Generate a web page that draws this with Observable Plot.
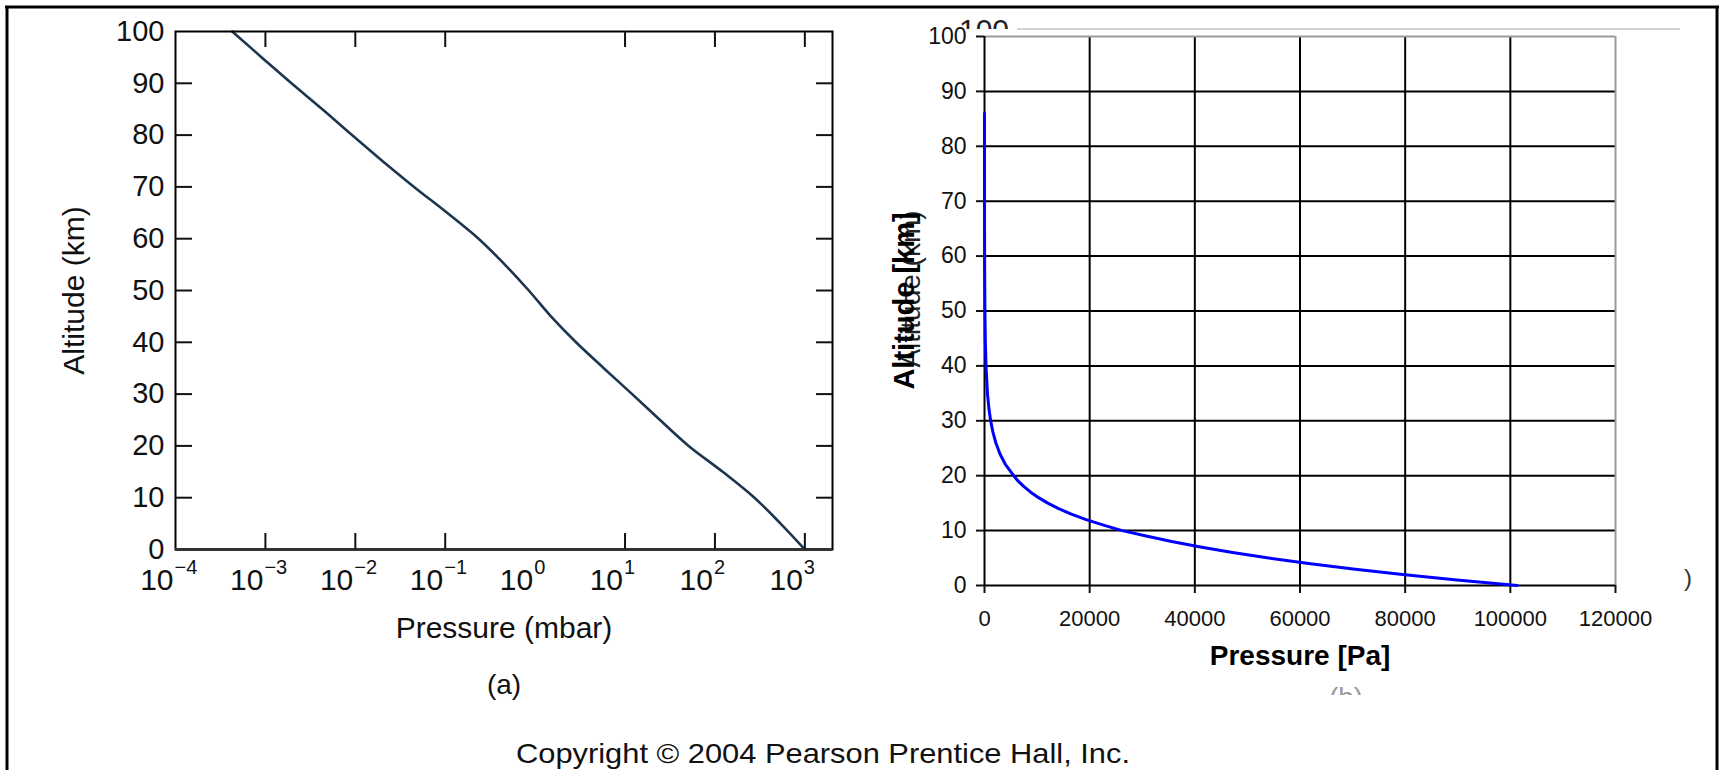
<!DOCTYPE html>
<html>
<head>
<meta charset="utf-8">
<script src="https://cdn.jsdelivr.net/npm/d3@7"></script>
<script src="https://cdn.jsdelivr.net/npm/@observablehq/plot@0.6"></script>
<style>
  html, body { margin: 0; padding: 0; background: #fff; }
  #wrap { position: relative; width: 1721px; height: 770px; background: #fff; overflow: hidden; font-family: "Liberation Sans", Arial, Helvetica, sans-serif; }
  #left, #right, #deco { position: absolute; top: 0; }
  #left { left: 0; }
  #right { left: 860px; }
  #deco { left: 0; pointer-events: none; }
</style>
</head>
<body>
<div id="wrap">
  <div id="left"></div>
  <div id="right"></div>
  <svg id="deco" width="1721" height="770"></svg>
</div>
<script>
// ---------- Data: panel (a), log pressure in mbar ----------
const leftAltitudeKm = [0, 5, 10, 15, 20, 25, 30, 35, 40, 45, 50, 55, 60, 65, 70, 75, 80, 85, 90, 95, 100];
const leftPressureMbar = [1000, 537, 275, 122, 51, 24.5, 12, 5.8, 2.85, 1.5, 0.85, 0.46, 0.235, 0.105, 0.045, 0.02, 0.0092, 0.0043, 0.00195, 0.00091, 0.000427];
const leftDecades = [1e-4, 1e-3, 1e-2, 1e-1, 1e0, 1e1, 1e2, 1e3];
const leftExponents = ["\u22124", "\u22123", "\u22122", "\u22121", "0", "1", "2", "3"];
const leftTickMarks = [1e-3, 1e-2, 1e-1, 1e1, 1e2, 1e3];
const leftYTicks = [0, 10, 20, 30, 40, 50, 60, 70, 80, 90, 100];
const leftYInnerTicks = [10, 20, 30, 40, 50, 60, 70, 80, 90];

// ---------- Data: panel (b), linear pressure in Pa ----------
const rightAltitudeKm = [0, 1, 2, 3, 4, 5, 6, 7, 8, 9, 10, 11, 12, 13, 14, 15, 16, 17, 18, 19, 20, 22, 24, 26, 28, 30, 32, 35, 40, 45, 50, 55, 60, 65, 70, 75, 80, 86];
const rightPressurePa = [101325, 89875, 79495, 70108, 61640, 54020, 47181, 41061, 35600, 30742, 26200, 22632, 19330, 16510, 14102, 12045, 10287, 8787, 7505, 6410, 5560, 4000, 2930, 2150, 1590, 1172, 868, 558, 287, 149, 80, 43, 22, 11, 5.2, 2.4, 1.05, 0.37];
const rightXTicks = [0, 20000, 40000, 60000, 80000, 100000, 120000];
const rightXGrid = [20000, 40000, 60000, 80000, 100000];
const rightYTicks = [0, 10, 20, 30, 40, 50, 60, 70, 80, 90, 100];
const rightYGrid = [10, 20, 30, 40, 50, 60, 70, 80, 90];

const FONT = '"Liberation Sans", Arial, Helvetica, sans-serif';

const leftData = leftAltitudeKm.map((a, i) => ({alt: a, p: leftPressureMbar[i]}));
const leftLabels = leftDecades.map((d, i) => ({d, e: leftExponents[i]}));
const rightData = rightAltitudeKm.map((a, i) => ({alt: a, pa: rightPressurePa[i]}));

// ---------- Panel (a) ----------
const LW = 860, LH = 770, LML = 175, LMR = 28, LMT = 31, LMB = 221;
const lInnerW = LW - LML - LMR, lInnerH = LH - LMT - LMB;
const leftPlot = Plot.plot({
  width: LW, height: LH,
  marginLeft: LML, marginRight: LMR, marginTop: LMT, marginBottom: LMB,
  x: {type: "log", domain: [1e-4, 2030], axis: null},
  y: {domain: [0, 100], axis: null},
  style: {background: "transparent", fontFamily: FONT, color: "#111", overflow: "visible"},
  marks: [
    Plot.line(leftData, {x: "p", y: "alt", stroke: "#1e3550", strokeWidth: 2.6, curve: "monotone-y"}),
    Plot.frame({stroke: "#000", strokeWidth: 2}),
    Plot.ruleY([0], {stroke: "#333", strokeWidth: 3}),
    Plot.tickX(leftTickMarks, {x: d => d, insetTop: lInnerH - 16, stroke: "#111", strokeWidth: 2}),
    Plot.tickX(leftTickMarks, {x: d => d, insetBottom: lInnerH - 16, stroke: "#111", strokeWidth: 2}),
    Plot.tickY(leftYInnerTicks, {y: d => d, insetRight: lInnerW - 17, stroke: "#111", strokeWidth: 2}),
    Plot.tickY(leftYInnerTicks, {y: d => d, insetLeft: lInnerW - 16, stroke: "#111", strokeWidth: 2}),
    Plot.text(leftYTicks, {y: d => d, text: d => String(d), frameAnchor: "left", textAnchor: "end", lineAnchor: "middle", dx: -11, fontSize: 29, fill: "#111"}),
    Plot.text(leftLabels, {x: "d", text: () => "10", frameAnchor: "bottom", textAnchor: "end", lineAnchor: "middle", dx: -2, dy: 31, fontSize: 30, fill: "#111"}),
    Plot.text(leftLabels, {x: "d", text: "e", frameAnchor: "bottom", textAnchor: "start", lineAnchor: "middle", dx: -1, dy: 18, fontSize: 20, fill: "#111"}),
    Plot.text(["Pressure (mbar)"], {text: d => d, frameAnchor: "bottom", textAnchor: "middle", lineAnchor: "middle", dy: 79, fontSize: 30, fill: "#111"}),
    Plot.text(["(a)"], {text: d => d, frameAnchor: "bottom", textAnchor: "middle", lineAnchor: "middle", dy: 136, fontSize: 28, fill: "#111"}),
    Plot.text(["Altitude (km)"], {text: d => d, frameAnchor: "left", textAnchor: "middle", lineAnchor: "middle", dx: -101, rotate: -90, fontSize: 30, fill: "#111"})
  ]
});
document.getElementById("left").appendChild(leftPlot);

// ---------- Panel (b) ----------
const RW = 861, RH = 770, RML = 124, RMR = 106, RMT = 36, RMB = 185;
const rightPlot = Plot.plot({
  width: RW, height: RH,
  marginLeft: RML, marginRight: RMR, marginTop: RMT, marginBottom: RMB,
  x: {domain: [0, 120000]},
  y: {domain: [0, 100]},
  style: {background: "transparent", fontFamily: FONT, color: "#111", overflow: "visible"},
  marks: [
    Plot.gridX(rightXGrid, {stroke: "#000", strokeOpacity: 1, strokeWidth: 2}),
    Plot.gridY(rightYGrid, {stroke: "#000", strokeOpacity: 1, strokeWidth: 2}),
    Plot.ruleX([120000], {stroke: "#9a9a9a", strokeWidth: 2}),
    Plot.ruleY([100], {stroke: "#9a9a9a", strokeWidth: 2}),
    Plot.ruleX([0], {stroke: "#000", strokeWidth: 2}),
    Plot.ruleY([0], {stroke: "#000", strokeWidth: 2}),
    Plot.axisX(rightXTicks, {tickSize: 8, tickPadding: 17, fontSize: 22, label: null, tickFormat: d => String(d), strokeWidth: 2}),
    Plot.axisY(rightYTicks, {tickSize: 8, tickPadding: 10, fontSize: 23, label: null, tickFormat: d => String(d), strokeWidth: 2}),
    Plot.line(rightData, {x: "pa", y: "alt", stroke: "#0000ff", strokeWidth: 3}),
    Plot.text(["Pressure [Pa]"], {text: d => d, frameAnchor: "bottom", textAnchor: "middle", lineAnchor: "middle", dy: 71, fontSize: 28, fontWeight: "bold", fill: "#000"}),
    Plot.text(["Altitude (km)"], {text: d => d, frameAnchor: "left", textAnchor: "middle", lineAnchor: "middle", dx: -73, dy: -22, rotate: -90, fontSize: 28, fill: "#222"}),
    Plot.text(["Altitude [km]"], {text: d => d, frameAnchor: "left", textAnchor: "middle", lineAnchor: "middle", dx: -80, dy: -10, rotate: -90, fontSize: 29, fontWeight: "bold", fill: "#000"})
  ]
});
document.getElementById("right").appendChild(rightPlot);

// ---------- Decorations: border, ghost fragments, copyright ----------
const deco = d3.select("#deco");
const defs = deco.append("defs");
defs.append("clipPath").attr("id", "ghost100").append("rect").attr("x", 940).attr("y", 10).attr("width", 90).attr("height", 19);
defs.append("clipPath").attr("id", "ghostb").append("rect").attr("x", 1310).attr("y", 670).attr("width", 80).attr("height", 25);

deco.append("text").attr("x", 984).attr("y", 40).attr("text-anchor", "middle")
  .attr("font-family", FONT).attr("font-size", 30).attr("fill", "#222")
  .attr("clip-path", "url(#ghost100)").text("100");
deco.append("line").attr("x1", 1017).attr("x2", 1680).attr("y1", 29).attr("y2", 29)
  .attr("stroke", "#c4c4c4").attr("stroke-width", 1.5);
deco.append("text").attr("x", 1346).attr("y", 707).attr("text-anchor", "middle")
  .attr("font-family", FONT).attr("font-size", 28).attr("fill", "#9a9a9a")
  .attr("clip-path", "url(#ghostb)").text("(b)");
deco.append("text").attr("x", 1688).attr("y", 586).attr("text-anchor", "middle")
  .attr("font-family", FONT).attr("font-size", 24).attr("fill", "#333").text(")");

deco.append("text").attr("x", 823).attr("y", 763).attr("text-anchor", "middle")
  .attr("font-family", FONT).attr("font-size", 28).attr("fill", "#111")
  .attr("textLength", 614).attr("lengthAdjust", "spacingAndGlyphs")
  .text("Copyright \u00a9 2004 Pearson Prentice Hall, Inc.");

deco.append("line").attr("x1", 5).attr("x2", 1719).attr("y1", 7).attr("y2", 7).attr("stroke", "#000").attr("stroke-width", 3);
deco.append("line").attr("x1", 7).attr("x2", 7).attr("y1", 6).attr("y2", 770).attr("stroke", "#000").attr("stroke-width", 3);
deco.append("line").attr("x1", 1717).attr("x2", 1717).attr("y1", 6).attr("y2", 770).attr("stroke", "#000").attr("stroke-width", 3);
</script>
</body>
</html>
